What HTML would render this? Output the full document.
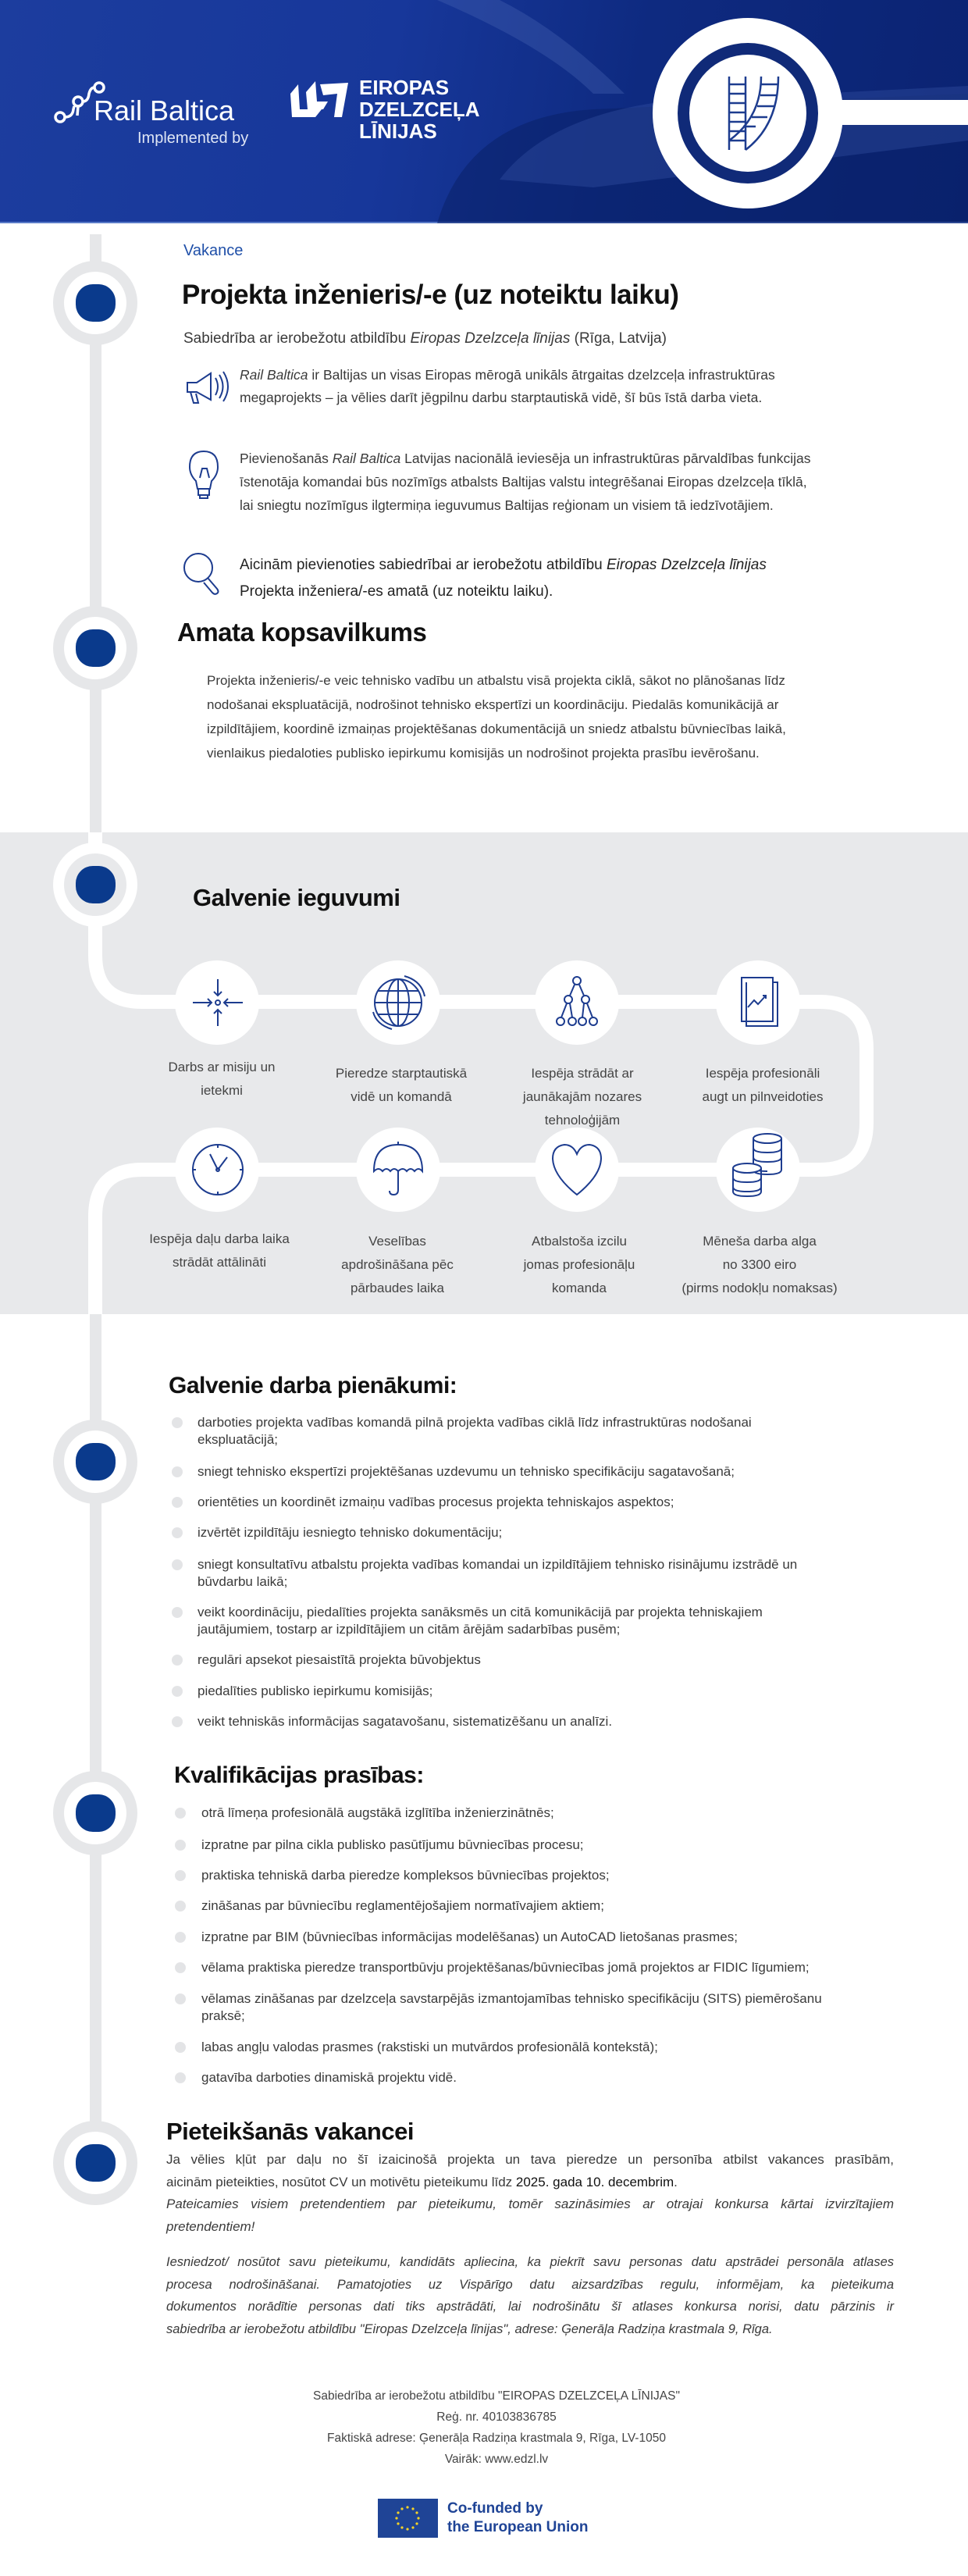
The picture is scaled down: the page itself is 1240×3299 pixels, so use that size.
<!DOCTYPE html>
<html><head><meta charset="utf-8">
<style>
*{margin:0;padding:0;box-sizing:border-box}
body{width:1240px;height:3299px;position:relative;background:#fff;font-family:"Liberation Sans",sans-serif;color:#3a3a3a;overflow:hidden}
.a{position:absolute;white-space:nowrap}
h1,h2{font-family:"Liberation Sans",sans-serif;color:#111;font-weight:bold;position:absolute;white-space:nowrap;letter-spacing:-0.5px}
.l{position:absolute;white-space:nowrap;font-size:17px;line-height:22px;color:#3a3a3a}
.b{position:absolute;width:14px;height:14px;border-radius:50%;background:#e3e4e6}
.c{position:absolute;text-align:center;font-size:17px;line-height:30px;color:#444;white-space:nowrap;transform:translateX(-50%)}
.j{text-align:justify;text-align-last:justify;height:28.5px;line-height:28.5px}
</style></head><body>

<!-- header -->
<div class="a" style="left:0;top:0;width:1240px;height:286px;background:linear-gradient(100deg,#1c3d9e 0%,#17379a 40%,#0e2a80 65%,#0b2372 100%);border-bottom:2px solid #5a7bc8"></div>
<svg class="a" style="left:0;top:0" width="1240" height="286">
  <path d="M560 286 Q600 150 760 140 L1240 120 L1240 286Z" fill="#0a2068" opacity="0.55"/>
  <path d="M640 230 Q700 150 850 130 L1240 110 L1240 180 L760 240Z" fill="#3a56a8" opacity="0.35"/>
  <path d="M560 0 Q700 60 760 120 L800 120 Q720 40 640 0Z" fill="#4a66b4" opacity="0.35"/>
  <!-- rail baltica logo -->
  <g fill="none" stroke="#fff" stroke-width="3.5">
    <circle cx="77" cy="150" r="6"/><circle cx="100" cy="130" r="6"/><circle cx="127" cy="112" r="6"/>
    <path d="M83 150 Q93 150 94 140 L95 136 M106 130 Q113 130 114 120 Q116 112 121 112"/>
    <path d="M100 136 L99 148"/>
  </g>
  <!-- EDzL icon -->
  <g fill="#fff">
    <path d="M372 120 L382 108 L384 140 L412 140 L404 150 L374 150Z"/>
    <path d="M392 118 L404 104 L406 130 L420 130 L414 140 L394 140Z"/>
    <path d="M410 108 L446 106 L438 150 L428 150 L432 120 L414 122Z"/>
  </g>
  <!-- big ring -->
  <circle cx="958" cy="145" r="122" fill="#fff"/>
  <circle cx="958" cy="145" r="90" fill="#102a78"/>
  <circle cx="958" cy="145" r="75" fill="#fff"/>
  <rect x="1078" y="128" width="162" height="32" fill="#fff"/>
  <g stroke="#1d3c8f" stroke-width="2.5" fill="none">
    <path d="M934 98 V192 M955 98 V192"/>
    <path d="M975 98 Q975 150 934 180 M997 98 Q997 160 955 192"/>
    <path d="M934 108h21M934 120h21M934 132h21M934 144h21M934 156h21M934 168h21M934 180h21M975 108h22M974 122h22M970 136h22M963 150h20M952 162h16"/>
  </g>
</svg>
<div class="a" style="left:120px;top:122px;font-size:36px;color:#fff;line-height:40px">Rail Baltica</div>
<div class="a" style="left:176px;top:165px;font-size:20px;color:#dfe6f5;line-height:24px">Implemented by</div>
<div class="a" style="left:460px;top:98px;font-size:26px;font-weight:bold;color:#fff;line-height:28px">EIROPAS<br>DZELZCEĻA<br>LĪNIJAS</div>

<!-- timeline -->
<svg class="a" style="left:0;top:0" width="1240" height="3299">
  <rect x="115" y="300" width="15" height="766" fill="#e6e7e9"/>
  <rect x="0" y="1066" width="1240" height="617" fill="#e8e9eb"/>
  <rect x="115" y="1683" width="15" height="1040" fill="#e6e7e9"/>
  <path d="M122 1066 V1223 Q122 1283 182 1283 H1050 Q1110 1283 1110 1343 V1438 Q1110 1498 1050 1498 H182 Q122 1498 122 1558 V1683" fill="none" stroke="#fff" stroke-width="18"/>
  <g>
    <circle cx="122" cy="388" r="54" fill="#e6e7e9"/><circle cx="122" cy="388" r="40" fill="#fff"/><rect x="97" y="364" width="51" height="48" rx="22" fill="#0a3a8c"/>
    <circle cx="122" cy="830" r="54" fill="#e6e7e9"/><circle cx="122" cy="830" r="40" fill="#fff"/><rect x="97" y="806" width="51" height="48" rx="22" fill="#0a3a8c"/>
    <circle cx="122" cy="1133" r="54" fill="#fff"/><circle cx="122" cy="1133" r="40" fill="#e8e9eb"/><rect x="97" y="1109" width="51" height="48" rx="22" fill="#0a3a8c"/>
    <circle cx="122" cy="1872" r="54" fill="#e6e7e9"/><circle cx="122" cy="1872" r="40" fill="#fff"/><rect x="97" y="1848" width="51" height="48" rx="22" fill="#0a3a8c"/>
    <circle cx="122" cy="2322" r="54" fill="#e6e7e9"/><circle cx="122" cy="2322" r="40" fill="#fff"/><rect x="97" y="2298" width="51" height="48" rx="22" fill="#0a3a8c"/>
    <circle cx="122" cy="2770" r="54" fill="#e6e7e9"/><circle cx="122" cy="2770" r="40" fill="#fff"/><rect x="97" y="2746" width="51" height="48" rx="22" fill="#0a3a8c"/>
  </g>
  <!-- benefit circles -->
  <g fill="#fff">
    <circle cx="278" cy="1284" r="54"/><circle cx="510" cy="1284" r="54"/><circle cx="739" cy="1284" r="54"/><circle cx="971" cy="1284" r="54"/>
    <circle cx="278" cy="1498" r="54"/><circle cx="510" cy="1498" r="54"/><circle cx="739" cy="1498" r="54"/><circle cx="971" cy="1498" r="54"/>
  </g>
  <g fill="none" stroke="#1d3c8f" stroke-width="2">
    <!-- arrows in -->
    <circle cx="279" cy="1284" r="3"/>
    <path d="M279 1254V1275M274 1270l5 5 5-5M279 1314V1293M274 1298l5-5 5 5M247 1284h24M266 1279l5 5-5 5M311 1284h-24M292 1279l-5 5 5 5"/>
    <!-- globe -->
    <circle cx="510" cy="1284" r="30"/><ellipse cx="510" cy="1284" rx="14" ry="30"/><path d="M510 1254V1314M480 1284h60M484 1269h52M484 1299h52"/>
    <path d="M518 1250q22 6 26 26M502 1318q-20-6-24-22"/>
    <!-- hierarchy -->
    <circle cx="739" cy="1256" r="5"/><circle cx="728" cy="1280" r="5"/><circle cx="750" cy="1280" r="5"/>
    <circle cx="718" cy="1308" r="5"/><circle cx="733" cy="1308" r="5"/><circle cx="746" cy="1308" r="5"/><circle cx="760" cy="1308" r="5"/>
    <path d="M736 1261l-6 14M742 1261l6 14M726 1285l-7 18M730 1285l3 18M748 1285l-2 18M752 1285l7 18"/>
    <!-- chart doc -->
    <rect x="950" y="1252" width="40" height="56"/><path d="M956 1258v56h40v-56h-6"/><path d="M958 1290l8-9 5 5 10-11M977 1275h4v4"/>
    <!-- clock -->
    <circle cx="279" cy="1498" r="32"/><path d="M279 1498l-10-20M279 1498l12-16M247 1498h4M307 1498h4M279 1466v4M279 1526v4"/><circle cx="279" cy="1498" r="2"/>
    <!-- umbrella -->
    <path d="M479 1500q0-34 31-34q31 0 31 34q-5-6-10 0q-5-6-10 0q-5-6-11 0q-5-6-10 0q-5-6-10 0q-5-6-11 0z"/><path d="M510 1462v4M510 1500v24q0 6-6 6q-5 0-5-5"/>
    <!-- heart -->
    <path d="M739 1530q-30-24-31-46q0-16 15-18q11 0 16 12q5-12 16-12q15 2 15 18q-1 22-31 46z"/>
    <!-- coins -->
    <g><ellipse cx="983" cy="1458" rx="18" ry="6"/><path d="M965 1458v40q0 6 18 6q18 0 18-6v-40M965 1470q0 6 18 6q18 0 18-6M965 1482q0 6 18 6q18 0 18-6M965 1494q0 6 18 6"/>
    <ellipse cx="957" cy="1496" rx="18" ry="6" fill="#fff"/><path d="M939 1496v30q0 6 18 6q18 0 18-6v-30M939 1508q0 6 18 6q18 0 18-6M939 1520q0 6 18 6q18 0 18-6"/></g>
  </g>
  <!-- paragraph icons -->
  <g fill="none" stroke="#1d3c8f" stroke-width="2">
    <path d="M240 490h12l18-12v34l-18-10h-12z M244 502l4 14h6l-3-12 M276 484q6 11 0 22M281 480q9 15 0 30M286 476q12 19 0 38"/>
    <path d="M261 578q-18 0-18 20q0 10 8 18l2 10h16l2-10q8-8 8-18q0-20-18-20zM254 626v8h14v-8M256 634v4h10v-4M256 612l3-12h6l3 12"/>
    <circle cx="254" cy="727" r="18"/><path d="M266 740l12 14q3 4 0 6q-3 2-6-1l-11-13"/>
  </g>
  <!-- EU flag -->
  <rect x="484" y="3200" width="77" height="50" fill="#1f4496"/>
  <g fill="#f5d327">
    <circle cx="522" cy="3211" r="1.6"/><circle cx="529" cy="3213" r="1.6"/><circle cx="534" cy="3218" r="1.6"/><circle cx="536" cy="3225" r="1.6"/><circle cx="534" cy="3232" r="1.6"/><circle cx="529" cy="3237" r="1.6"/><circle cx="522" cy="3239" r="1.6"/><circle cx="515" cy="3237" r="1.6"/><circle cx="510" cy="3232" r="1.6"/><circle cx="508" cy="3225" r="1.6"/><circle cx="510" cy="3218" r="1.6"/><circle cx="515" cy="3213" r="1.6"/>
  </g>
</svg>

<!-- intro -->
<div class="a" style="left:235px;top:309px;font-size:20px;line-height:24px;color:#1f4fa8">Vakance</div>
<h1 style="left:233px;top:356px;font-size:35px;line-height:44px">Projekta inženieris/-e (uz noteiktu laiku)</h1>
<div class="a" style="left:235px;top:422px;font-size:19px;line-height:24px">Sabiedrība ar ierobežotu atbildību <i>Eiropas Dzelzceļa līnijas</i> (Rīga, Latvija)</div>
<div class="a" style="left:307px;top:466px;font-size:17.5px;line-height:29px"><i>Rail Baltica</i> ir Baltijas un visas Eiropas mērogā unikāls ātrgaitas dzelzceļa infrastruktūras<br>megaprojekts – ja vēlies darīt jēgpilnu darbu starptautiskā vidē, šī būs īstā darba vieta.</div>
<div class="a" style="left:307px;top:572px;font-size:17.5px;line-height:30px">Pievienošanās <i>Rail Baltica</i> Latvijas nacionālā ieviesēja un infrastruktūras pārvaldības funkcijas<br>īstenotāja komandai būs nozīmīgs atbalsts Baltijas valstu integrēšanai Eiropas dzelzceļa tīklā,<br>lai sniegtu nozīmīgus ilgtermiņa ieguvumus Baltijas reģionam un visiem tā iedzīvotājiem.</div>
<div class="a" style="left:307px;top:707px;font-size:19px;line-height:34px;color:#222">Aicinām pievienoties sabiedrībai ar ierobežotu atbildību <i>Eiropas Dzelzceļa līnijas</i><br>Projekta inženiera/-es amatā (uz noteiktu laiku).</div>

<h2 style="left:227px;top:789px;font-size:33px;line-height:42px">Amata kopsavilkums</h2>
<div class="a" style="left:265px;top:856px;font-size:17px;line-height:31px">Projekta inženieris/-e veic tehnisko vadību un atbalstu visā projekta ciklā, sākot no plānošanas līdz<br>nodošanai ekspluatācijā, nodrošinot tehnisko ekspertīzi un koordināciju. Piedalās komunikācijā ar<br>izpildītājiem, koordinē izmaiņas projektēšanas dokumentācijā un sniedz atbalstu būvniecības laikā,<br>vienlaikus piedaloties publisko iepirkumu komisijās un nodrošinot projekta prasību ievērošanu.</div>

<h2 style="left:247px;top:1130px;font-size:31px;line-height:40px">Galvenie ieguvumi</h2>
<div class="c" style="left:284px;top:1352px">Darbs ar misiju un<br>ietekmi</div>
<div class="c" style="left:514px;top:1360px">Pieredze starptautiskā<br>vidē un komandā</div>
<div class="c" style="left:746px;top:1360px">Iespēja strādāt ar<br>jaunākajām nozares<br>tehnoloģijām</div>
<div class="c" style="left:977px;top:1360px">Iespēja profesionāli<br>augt un pilnveidoties</div>
<div class="c" style="left:281px;top:1572px">Iespēja daļu darba laika<br>strādāt attālināti</div>
<div class="c" style="left:509px;top:1575px">Veselības<br>apdrošināšana pēc<br>pārbaudes laika</div>
<div class="c" style="left:742px;top:1575px">Atbalstoša izcilu<br>jomas profesionāļu<br>komanda</div>
<div class="c" style="left:973px;top:1575px">Mēneša darba alga<br>no 3300 eiro<br>(pirms nodokļu nomaksas)</div>

<h2 style="left:216px;top:1756px;font-size:30px;line-height:38px">Galvenie darba pienākumi:</h2>
<div class="b" style="left:220px;top:1815px"></div><div class="l" style="left:253px;top:1811px">darboties projekta vadības komandā pilnā projekta vadības ciklā līdz infrastruktūras nodošanai<br>ekspluatācijā;</div>
<div class="b" style="left:220px;top:1878px"></div><div class="l" style="left:253px;top:1874px">sniegt tehnisko ekspertīzi projektēšanas uzdevumu un tehnisko specifikāciju sagatavošanā;</div>
<div class="b" style="left:220px;top:1917px"></div><div class="l" style="left:253px;top:1913px">orientēties un koordinēt izmaiņu vadības procesus projekta tehniskajos aspektos;</div>
<div class="b" style="left:220px;top:1956px"></div><div class="l" style="left:253px;top:1952px">izvērtēt izpildītāju iesniegto tehnisko dokumentāciju;</div>
<div class="b" style="left:220px;top:1997px"></div><div class="l" style="left:253px;top:1993px">sniegt konsultatīvu atbalstu projekta vadības komandai un izpildītājiem tehnisko risinājumu izstrādē un<br>būvdarbu laikā;</div>
<div class="b" style="left:220px;top:2058px"></div><div class="l" style="left:253px;top:2054px">veikt koordināciju, piedalīties projekta sanāksmēs un citā komunikācijā par projekta tehniskajiem<br>jautājumiem, tostarp ar izpildītājiem un citām ārējām sadarbības pusēm;</div>
<div class="b" style="left:220px;top:2119px"></div><div class="l" style="left:253px;top:2115px">regulāri apsekot piesaistītā projekta būvobjektus</div>
<div class="b" style="left:220px;top:2159px"></div><div class="l" style="left:253px;top:2155px">piedalīties publisko iepirkumu komisijās;</div>
<div class="b" style="left:220px;top:2198px"></div><div class="l" style="left:253px;top:2194px">veikt tehniskās informācijas sagatavošanu, sistematizēšanu un analīzi.</div>

<h2 style="left:223px;top:2255px;font-size:30px;line-height:38px">Kvalifikācijas prasības:</h2>
<div class="b" style="left:224px;top:2315px"></div><div class="l" style="left:258px;top:2311px">otrā līmeņa profesionālā augstākā izglītība inženierzinātnēs;</div>
<div class="b" style="left:224px;top:2356px"></div><div class="l" style="left:258px;top:2352px">izpratne par pilna cikla publisko pasūtījumu būvniecības procesu;</div>
<div class="b" style="left:224px;top:2395px"></div><div class="l" style="left:258px;top:2391px">praktiska tehniskā darba pieredze kompleksos būvniecības projektos;</div>
<div class="b" style="left:224px;top:2434px"></div><div class="l" style="left:258px;top:2430px">zināšanas par būvniecību reglamentējošajiem normatīvajiem aktiem;</div>
<div class="b" style="left:224px;top:2474px"></div><div class="l" style="left:258px;top:2470px">izpratne par BIM (būvniecības informācijas modelēšanas) un AutoCAD lietošanas prasmes;</div>
<div class="b" style="left:224px;top:2513px"></div><div class="l" style="left:258px;top:2509px">vēlama praktiska pieredze transportbūvju projektēšanas/būvniecības jomā projektos ar FIDIC līgumiem;</div>
<div class="b" style="left:224px;top:2553px"></div><div class="l" style="left:258px;top:2549px">vēlamas zināšanas par dzelzceļa savstarpējās izmantojamības tehnisko specifikāciju (SITS) piemērošanu<br>praksē;</div>
<div class="b" style="left:224px;top:2615px"></div><div class="l" style="left:258px;top:2611px">labas angļu valodas prasmes (rakstiski un mutvārdos profesionālā kontekstā);</div>
<div class="b" style="left:224px;top:2654px"></div><div class="l" style="left:258px;top:2650px">gatavība darboties dinamiskā projektu vidē.</div>

<h2 style="left:213px;top:2710px;font-size:31px;line-height:40px">Pieteikšanās vakancei</h2>
<div class="a" style="left:213px;top:2752px;width:932px;font-size:17px;white-space:normal">
<div class="j">Ja vēlies kļūt par daļu no šī izaicinošā projekta un tava pieredze un personība atbilst vakances prasībām,</div>
<div style="line-height:28.5px">aicinām pieteikties, nosūtot CV un motivētu pieteikumu līdz <span style="color:#111">2025. gada 10. decembrim</span>.</div>
<div class="j" style="font-style:italic">Pateicamies visiem pretendentiem par pieteikumu, tomēr sazināsimies ar otrajai konkursa kārtai izvirzītajiem</div>
<div style="line-height:28.5px;font-style:italic">pretendentiem!</div>
</div>
<div class="a" style="left:213px;top:2883px;width:932px;font-size:16.5px;white-space:normal;font-style:italic">
<div class="j">Iesniedzot/ nosūtot savu pieteikumu, kandidāts apliecina, ka piekrīt savu personas datu apstrādei personāla atlases</div>
<div class="j">procesa nodrošināšanai. Pamatojoties uz Vispārīgo datu aizsardzības regulu, informējam, ka pieteikuma</div>
<div class="j">dokumentos norādītie personas dati tiks apstrādāti, lai nodrošinātu šī atlases konkursa norisi, datu pārzinis ir</div>
<div style="line-height:28.5px">sabiedrība ar ierobežotu atbildību "Eiropas Dzelzceļa līnijas", adrese: Ģenerāļa Radziņa krastmala 9, Rīga.</div>
</div>

<div class="a" style="left:336px;top:3055px;width:600px;text-align:center;font-size:15.5px;line-height:27px;color:#444">Sabiedrība ar ierobežotu atbildību "EIROPAS DZELZCEĻA LĪNIJAS"<br>Reģ. nr. 40103836785<br>Faktiskā adrese: Ģenerāļa Radziņa krastmala 9, Rīga, LV-1050<br>Vairāk: www.edzl.lv</div>
<div class="a" style="left:573px;top:3201px;font-size:19px;line-height:24px;font-weight:bold;color:#1f4496">Co-funded by<br>the European Union</div>
</body></html>
